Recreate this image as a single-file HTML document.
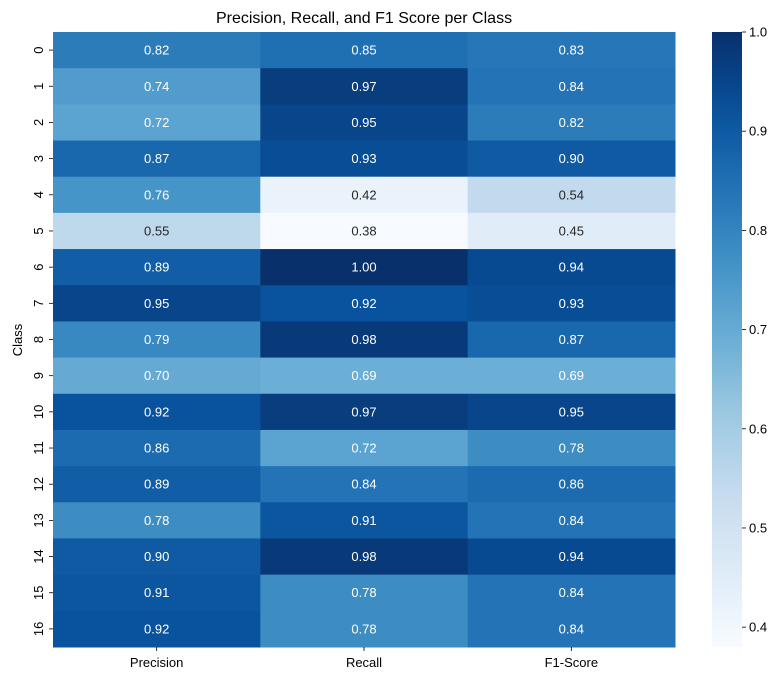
<!DOCTYPE html>
<html><head><meta charset="utf-8"><style>
body{margin:0;background:#fff;}
svg text{font-family:"Liberation Sans","DejaVu Sans",sans-serif;}
</style></head><body>
<svg id="chart" width="784" height="682" xmlns="http://www.w3.org/2000/svg">
<text x="364" y="23" text-anchor="middle" font-size="16" fill="#000">Precision, Recall, and F1 Score per Class</text>
<text transform="translate(22,340) rotate(-90)" text-anchor="middle" font-size="13" fill="#000">Class</text>
<g id="cells"></g><g id="axes"></g><g id="cbar"></g>
</svg>
<script>
const classes = ["0","1","2","3","4","5","6","7","8","9","10","11","12","13","14","15","16"];
const metrics = ["Precision","Recall","F1-Score"];
const precision = [0.82,0.74,0.72,0.87,0.76,0.55,0.89,0.95,0.79,0.70,0.92,0.86,0.89,0.78,0.90,0.91,0.92];
const recall = [0.85,0.97,0.95,0.93,0.42,0.38,1.00,0.92,0.98,0.69,0.97,0.72,0.84,0.91,0.98,0.78,0.78];
const f1 = [0.83,0.84,0.82,0.90,0.54,0.45,0.94,0.93,0.87,0.69,0.95,0.78,0.86,0.84,0.94,0.84,0.84];
const cbarTicks = [0.4,0.5,0.6,0.7,0.8,0.9,1.0];

const NS="http://www.w3.org/2000/svg";
const L=53,R=675,T=32,B=647;
const series=[precision,recall,f1];
const all=precision.concat(recall,f1);
const vmin=Math.min(...all), vmax=Math.max(...all);
const cw=(R-L)/metrics.length, rh=(B-T)/classes.length;
const xPos=i=>L+i*cw, yPos=j=>T+j*rh;
const stops=["#f7fbff","#deebf7","#c6dbef","#9ecae1","#6baed6","#4292c6","#2171b5","#08519c","#08306b"].map(h=>[1,3,5].map(k=>parseInt(h.substr(k,2),16)));
function cmap(v){let t=(v-vmin)/(vmax-vmin);t=Math.max(0,Math.min(1,t))*8;let i=Math.min(7,Math.floor(t)),f=t-i;return stops[i].map((c,k)=>c+(stops[i+1][k]-c)*f);}
function lum(c){const l=c.map(x=>{x/=255;return x<=0.03928?x/12.92:Math.pow((x+0.055)/1.055,2.4)});return 0.2126*l[0]+0.7152*l[1]+0.0722*l[2];}
function mk(tag,attrs,parent){const e=document.createElementNS(NS,tag);for(const k in attrs)e.setAttribute(k,attrs[k]);parent.appendChild(e);return e;}
const cells=document.getElementById('cells'),axes=document.getElementById('axes'),cb=document.getElementById('cbar');
series.forEach((s,i)=>s.forEach((v,j)=>{
  const c=cmap(v);
  const r=mk('rect',{x:xPos(i),y:yPos(j),width:cw+0.5,height:rh+0.5,fill:`rgb(${c.map(Math.round).join(',')})`},cells);
  
  
  const t=mk('text',{x:xPos(i)+cw/2,y:yPos(j)+rh/2+4.5,'text-anchor':'middle','font-size':13,fill:lum(c)>0.408?'#262626':'#fff'},cells);
  t.textContent=v.toFixed(2);
  
  
}));
metrics.forEach((m,i)=>{
  const x=xPos(i)+cw/2;
  mk('line',{x1:x,x2:x,y1:B,y2:B+4,stroke:'#000','stroke-width':0.8},axes);
  const t=mk('text',{x:x,y:B+20,'text-anchor':'middle','font-size':13},axes);t.textContent=m;
  
  
});
classes.forEach((c,j)=>{
  const y=yPos(j)+rh/2;
  mk('line',{x1:L-4,x2:L,y1:y,y2:y,stroke:'#000','stroke-width':0.8},axes);
  const t=mk('text',{transform:`translate(43,${y}) rotate(-90)`,'text-anchor':'middle','font-size':13},axes);t.textContent=c;
  
  
});
const CX=712,CW=30;
const cbY=v=>B-(v-vmin)/(vmax-vmin)*(B-T);
const defs=mk('defs',{},cb);const g=mk('linearGradient',{id:'cg',x1:0,y1:1,x2:0,y2:0},defs);
for(let k=0;k<=20;k++){const c=cmap(vmin+(vmax-vmin)*k/20);mk('stop',{offset:k/20,'stop-color':`rgb(${c.map(Math.round).join(',')})`},g);}
const cr=mk('rect',{x:CX,y:T,width:CW,height:B-T,fill:'url(#cg)'},cb);


cbarTicks.forEach(v=>{
  const y=cbY(v);
  mk('line',{x1:CX+CW,x2:CX+CW+4,y1:y,y2:y,stroke:'#000','stroke-width':0.8},cb);
  const t=mk('text',{x:CX+CW+7,y:y+4.5,'font-size':13},cb);t.textContent=v.toFixed(1);
  
  
});
</script>
</body></html>
